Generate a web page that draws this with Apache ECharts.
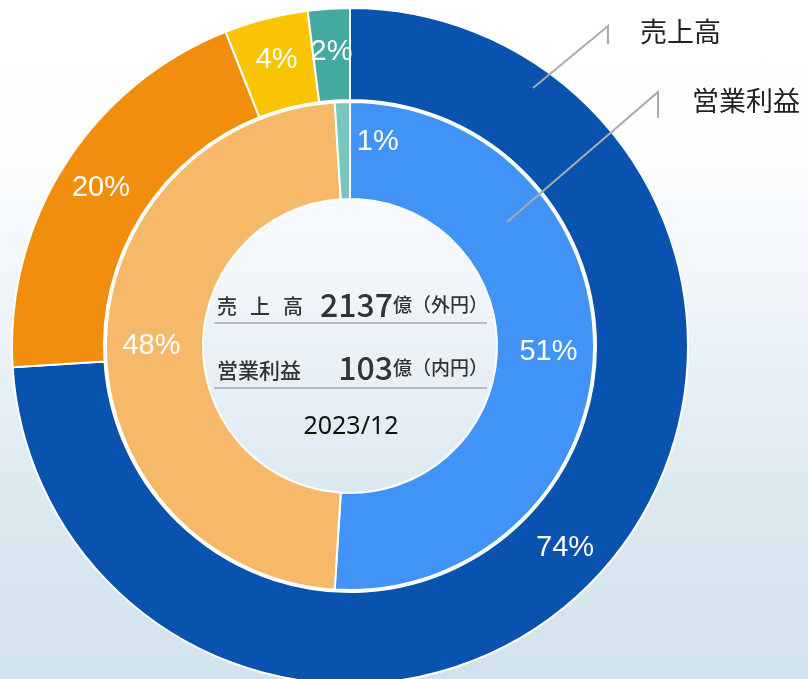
<!DOCTYPE html>
<html>
<head>
<meta charset="utf-8">
<script src="https://cdn.jsdelivr.net/npm/echarts@6/dist/echarts.min.js"></script>
<style>
  html, body { margin: 0; padding: 0; }
  #main {
    width: 808px; height: 679px;
    background: linear-gradient(to bottom, #ffffff 0%, #fdfeff 22%, #eef4f9 45%, #dde9f1 72%, #d2e2ec 100%);
  }
</style>
</head>
<body>
<div id="main"></div>
<script>
// 外円: 売上高, 内円: 営業利益
var outerNames = ['A', 'B', 'C', 'D'];
var outerValues = [74, 20, 4, 2];
var outerColors = ['#0953ae', '#f18e0e', '#f9c401', '#43aaa0'];

var innerNames = ['A', 'B', 'C'];
var innerValues = [51, 48, 1];
var innerColors = ['#4194f6', '#f6b969', '#76c7c0'];

var totalSales = '2137';
var totalProfit = '103';
var period = '2023/12';

var FONT = '"Noto Sans CJK JP", "Noto Sans", sans-serif';
var NUMFONT = '"Liberation Sans", Arial, sans-serif';

function toData(names, values, colors) {
    return names.map(function (n, i) {
        return { name: n, value: values[i], itemStyle: { color: colors[i] } };
    });
}

var innerData = toData(innerNames, innerValues, innerColors);
// 小さいスライスのラベルは右へずらす
innerData[2].label = { offset: [34, -6] };

var pieLabel = {
    show: true, position: 'inside', formatter: '{d}%',
    color: '#fff', fontSize: 29, fontFamily: NUMFONT
};

var myChart = echarts.init(document.getElementById('main'));

var option = {
    backgroundColor: 'transparent',
    animation: false,
    series: [
        {
            name: '売上高',
            type: 'pie',
            center: [350, 346],
            radius: [246, 338],
            startAngle: 90,
            silent: true,
            itemStyle: { borderColor: '#fff', borderWidth: 2 },
            label: pieLabel,
            labelLine: { show: false },
            data: toData(outerNames, outerValues, outerColors)
        },
        {
            name: '営業利益',
            type: 'pie',
            center: [350, 346],
            radius: [147, 244],
            startAngle: 90,
            silent: true,
            itemStyle: { borderColor: '#fff', borderWidth: 2 },
            label: pieLabel,
            labelLine: { show: false },
            data: innerData
        }
    ],
    graphic: [
        // 引出線
        { type: 'polyline', z: 100, shape: { points: [[533, 88], [608, 26], [608, 44]] },
          style: { stroke: '#aaaaaa', lineWidth: 2, fill: null } },
        { type: 'polyline', z: 100, shape: { points: [[507, 222], [658, 92], [658, 118]] },
          style: { stroke: '#aaaaaa', lineWidth: 2, fill: null } },
        { type: 'text', z: 100, left: 640, top: 18,
          style: { text: '売上高', fontSize: 27, fill: '#222', fontFamily: FONT } },
        { type: 'text', z: 100, left: 692, top: 87,
          style: { text: '営業利益', fontSize: 27, fill: '#222', fontFamily: FONT } },

        // 中央テキスト
        { type: 'text', z: 100, x: 217, y: 306,
          style: { text: '売', fontSize: 20, fill: '#333', fontFamily: FONT, fontWeight: 500, verticalAlign: 'middle' } },
        { type: 'text', z: 100, x: 250, y: 306,
          style: { text: '上', fontSize: 20, fill: '#333', fontFamily: FONT, fontWeight: 500, verticalAlign: 'middle' } },
        { type: 'text', z: 100, x: 283, y: 306,
          style: { text: '高', fontSize: 20, fill: '#333', fontFamily: FONT, fontWeight: 500, verticalAlign: 'middle' } },
        { type: 'text', z: 100, x: 488, y: 305,
          style: {
              text: '{v|' + totalSales + '}{u|億（外円）}',
              align: 'right', verticalAlign: 'middle',
              rich: {
                  v: { fontSize: 32, fill: '#333', fontFamily: FONT, fontWeight: 500 },
                  u: { fontSize: 19, fill: '#333', fontFamily: FONT, fontWeight: 500 }
              }
          } },
        { type: 'line', z: 100, shape: { x1: 214, y1: 323, x2: 487, y2: 323 },
          style: { stroke: '#8a8a8a', lineWidth: 1.2 } },

        { type: 'text', z: 100, x: 217, y: 370,
          style: { text: '営業利益', fontSize: 21, fill: '#333', fontFamily: FONT, fontWeight: 500, verticalAlign: 'middle' } },
        { type: 'text', z: 100, x: 488, y: 368,
          style: {
              text: '{v|' + totalProfit + '}{u|億（内円）}',
              align: 'right', verticalAlign: 'middle',
              rich: {
                  v: { fontSize: 32, fill: '#333', fontFamily: FONT, fontWeight: 500 },
                  u: { fontSize: 19, fill: '#333', fontFamily: FONT, fontWeight: 500 }
              }
          } },
        { type: 'line', z: 100, shape: { x1: 214, y1: 388, x2: 487, y2: 388 },
          style: { stroke: '#8a8a8a', lineWidth: 1.2 } },

        { type: 'text', z: 100, x: 351, y: 427,
          style: { text: period, fontSize: 25, fill: '#111', fontFamily: '"Noto Sans", sans-serif', align: 'center', verticalAlign: 'middle' } }
    ]
};

myChart.setOption(option);
</script>
</body>
</html>
